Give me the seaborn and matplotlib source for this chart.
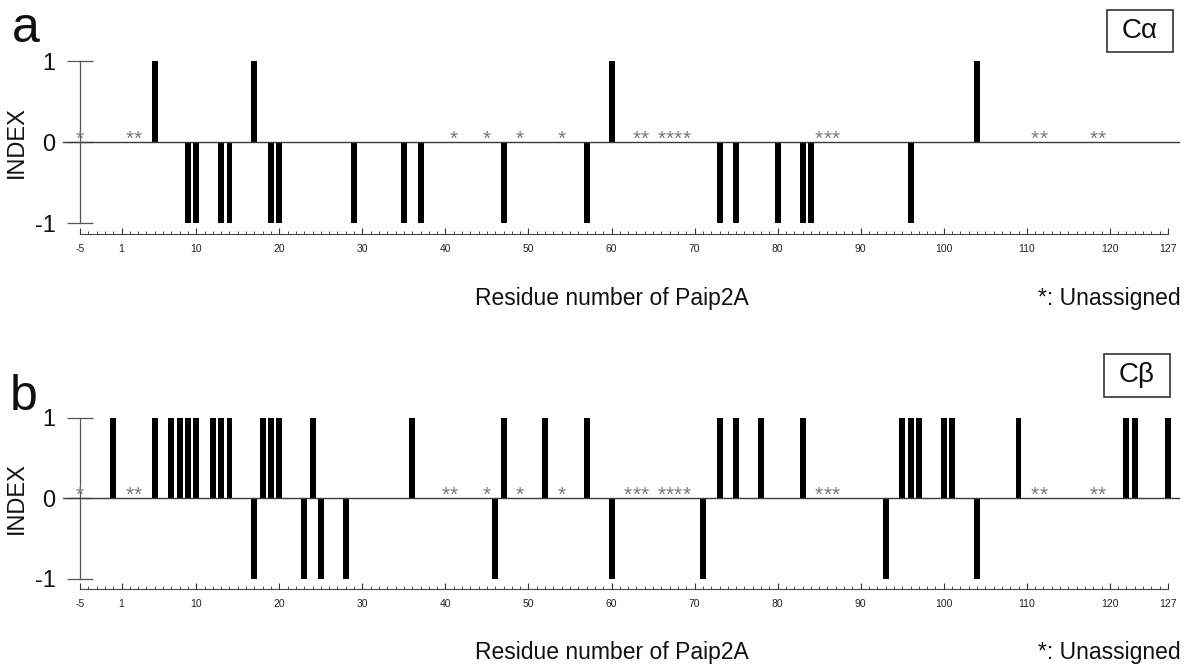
import numpy as np
import pandas as pd
import matplotlib
matplotlib.use("Agg")
import matplotlib.pyplot as plt
import seaborn as sns
from matplotlib.patches import Rectangle
from matplotlib.ticker import FixedLocator

sns.set_theme(style="white")
plt.rcParams["font.family"] = ["Liberation Sans", "DejaVu Sans"]

# ---------------- data (residue numbers of Paip2A; residue 0 does not exist) ----------------
residues = list(range(-5, 0)) + list(range(1, 128))
tick_residues = [-5, 1, 10, 20, 30, 40, 50, 60, 70, 80, 90, 100, 110, 120, 127]

ca_pos = [5, 17, 60, 104]
ca_neg = [9, 10, 13, 14, 19, 20, 29, 35, 37, 47, 57, 73, 75, 80, 83, 84, 96]
ca_unassigned = [-5, 2, 3, 41, 45, 49, 54, 63, 64, 66, 67, 68, 69, 85, 86, 87,
                 111, 112, 118, 119]

cb_pos = [-1, 5, 7, 8, 9, 10, 12, 13, 14, 18, 19, 20, 24, 36, 47, 52, 57, 73, 75,
          78, 83, 95, 96, 97, 100, 101, 109, 122, 123, 127]
cb_neg = [17, 23, 25, 28, 46, 60, 71, 93, 104]
cb_unassigned = [-5, 2, 3, 40, 41, 45, 49, 54, 62, 63, 64, 66, 67, 68, 69, 85, 86,
                 87, 111, 112, 118, 119]

panel_letters = ["a", "b"]
atom_labels = ["C\u03b1", "C\u03b2"]
xlabel_text = "Residue number of Paip2A"
legend_text = "*: Unassigned"
ylabel_text = "INDEX"

# ---------------- layout helpers ----------------
W, H = 1184, 668
fig = plt.figure(figsize=(W / 100, H / 100), dpi=100)


def fx(px):
    return px / W


def fy(py):
    return (H - py) / H


pos_of = {r: i for i, r in enumerate(residues)}
px_per_res = (1168 - 80) / 131.0
xlim = (-(80 - 63) / px_per_res, (1180 - 80) / px_per_res)
ylim = (-1.13, 1.10)

panels = [
    dict(pos=ca_pos, neg=ca_neg, un=ca_unassigned, spine_px=234, unit_px=81.0,
         letter_xy=(12, 42), box=(1107, 10, 66, 42), xlabel_y=298),
    dict(pos=cb_pos, neg=cb_neg, un=cb_unassigned, spine_px=589, unit_px=80.5,
         letter_xy=(10, 410), box=(1104, 354, 66, 43), xlabel_y=652),
]

for k, p in enumerate(panels):
    h_px = (ylim[1] - ylim[0]) * p["unit_px"]
    ax = fig.add_axes([fx(63), fy(p["spine_px"]), (1180 - 63) / W, h_px / H])

    df = pd.DataFrame({
        "pos": [pos_of[r] for r in p["pos"]] + [pos_of[r] for r in p["neg"]],
        "value": [1] * len(p["pos"]) + [-1] * len(p["neg"]),
    })
    sns.barplot(data=df, x="pos", y="value", native_scale=True, orient="x",
                color="black", saturation=1, width=0.72, errorbar=None,
                linewidth=0, ax=ax)

    ax.set_xlim(*xlim)
    ax.set_ylim(*ylim)
    ax.axhline(0, color="#3a3a3a", lw=1.0, zorder=1)

    # unassigned residues
    for r in p["un"]:
        ax.text(pos_of[r], -0.035, "*", ha="center", va="baseline",
                fontsize=15, color="#7a7a7a", zorder=3)

    # spines
    for s in ["top", "right"]:
        ax.spines[s].set_visible(False)
    ax.spines["left"].set_position(("data", 0))
    ax.spines["left"].set_bounds(-1, 1)
    ax.spines["left"].set_color("#555555")
    ax.spines["left"].set_linewidth(0.9)
    ax.spines["bottom"].set_bounds(0, len(residues) - 1)
    ax.spines["bottom"].set_color("#444444")
    ax.spines["bottom"].set_linewidth(0.8)

    # y ticks
    ax.set_yticks([-1, 0, 1])
    ax.set_yticklabels(["-1", "0", "1"])
    ax.tick_params(axis="y", which="major", direction="inout", length=19,
                   width=0.9, color="#555555", labelsize=17, pad=8,
                   left=True, labelcolor="#111111")

    # x ticks
    major_idx = [pos_of[r] for r in tick_residues]
    ax.xaxis.set_major_locator(FixedLocator(major_idx))
    ax.set_xticklabels([str(r) for r in tick_residues])
    ax.xaxis.set_minor_locator(FixedLocator(
        [i for i in range(len(residues)) if i not in major_idx]))
    ax.tick_params(axis="x", which="major", direction="in", length=4, width=0.8,
                   color="#333333", labelsize=7.5, pad=7, bottom=True,
                   labelcolor="#222222")
    ax.tick_params(axis="x", which="minor", direction="in", length=2.5,
                   width=0.7, color="#444444", bottom=True)

    ax.set_xlabel(xlabel_text, fontsize=16.5, color="#111111", va="center")
    ax.xaxis.set_label_coords((612 - 63) / (1180 - 63),
                              -(p["xlabel_y"] - p["spine_px"]) / h_px)
    ax.set_ylabel(ylabel_text, fontsize=17, color="#111111", va="center",
                  ha="center")
    y0_frac = (0 - ylim[0]) / (ylim[1] - ylim[0])
    ax.yaxis.set_label_coords((17 - 63) / (1180 - 63), y0_frac)

    # panel letter
    lx, ly = p["letter_xy"]
    fig.text(fx(lx), fy(ly), panel_letters[k], fontsize=36, ha="left",
             va="baseline", color="#111111")

    # atom box
    bx, by, bw, bh = p["box"]
    fig.add_artist(Rectangle((fx(bx), fy(by + bh)), bw / W, bh / H,
                             transform=fig.transFigure, fill=False,
                             ec="#333333", lw=1.2))
    fig.text(fx(bx + bw / 2), fy(by + bh / 2), atom_labels[k], fontsize=20,
             ha="center", va="center", color="#111111")

    # unassigned legend
    fig.text(fx(1181), fy(p["xlabel_y"]), legend_text, fontsize=16.5,
             ha="right", va="center", color="#111111")

fig.savefig("out.png", dpi=100)
